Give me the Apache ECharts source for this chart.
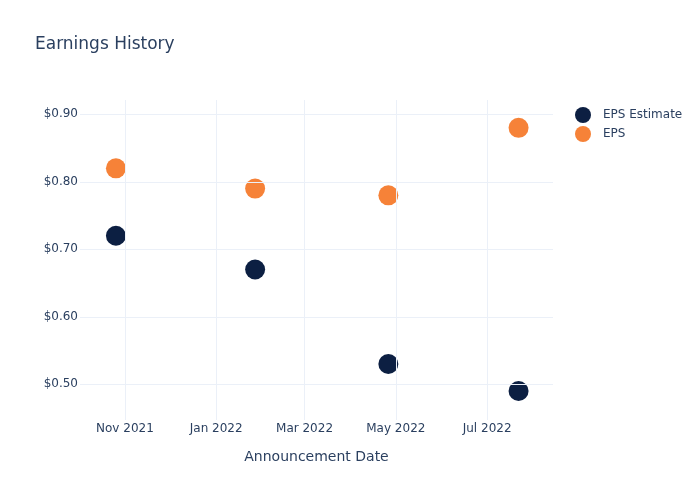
<!DOCTYPE html>
<html><head><meta charset="utf-8">
<script src="https://cdn.jsdelivr.net/npm/echarts@6/dist/echarts.min.js"></script>
<style>html,body{margin:0;padding:0;background:#fff}#c{width:700px;height:500px}</style>
</head><body><div id="c"></div>
<script>
const dates = ['2021-10-26', '2022-01-27', '2022-04-26', '2022-07-22'];
const epsEstimate = [0.72, 0.67, 0.53, 0.49];
const eps = [0.82, 0.79, 0.78, 0.88];
const xTicks = ['2021-11-01', '2022-01-01', '2022-03-01', '2022-05-01', '2022-07-01'];
const yTicks = [0.5, 0.6, 0.7, 0.8, 0.9];
const monthNames = ['Jan','Feb','Mar','Apr','May','Jun','Jul','Aug','Sep','Oct','Nov','Dec'];
const font = '"DejaVu Sans", "Open Sans", sans-serif';
const txt = '#2a3f5f';
const chart = echarts.init(document.getElementById('c'));
const tickTs = xTicks.map(d => +new Date(d + 'T00:00:00Z'));
chart.setOption({
  animation: false,
  title: { text: 'Earnings History', left: 35, top: 36, padding: 0, textStyle: { fontFamily: font, fontSize: 17, fontWeight: 'normal', color: txt } },
  legend: {
    orient: 'vertical', left: 570, top: 102, itemGap: 3, itemWidth: 16, itemHeight: 16,
    icon: 'circle', textStyle: { fontFamily: font, fontSize: 12, color: txt, padding: [0, 0, 0, 7] },
    data: ['EPS Estimate', 'EPS']
  },
  grid: { left: 80, right: 147, top: 100, bottom: 80, containLabel: false },
  xAxis: {
    type: 'time',
    min: +new Date('2021-10-02T00:00:00Z'),
    max: +new Date('2022-08-14T00:00:00Z'),
    name: 'Announcement Date', nameLocation: 'middle', nameGap: 30,
    nameTextStyle: { fontFamily: font, fontSize: 14, color: txt },
    axisLine: { show: false }, axisTick: { show: false },
    splitLine: { show: false },
    axisLabel: { show: false }
  },
  yAxis: {
    type: 'value', min: 0.4471, max: 0.9212, interval: 0.1,
    axisLine: { show: false }, axisTick: { show: false },
    splitLine: { show: false },
    axisLabel: { show: false }
  },
  series: [
    {
      name: 'EPS Estimate', type: 'scatter', symbolSize: 20, z: 3,
      itemStyle: { color: '#0c1f42', opacity: 1 },
      data: dates.map((d, i) => [d, epsEstimate[i]])
    },
    {
      name: 'EPS', type: 'scatter', symbolSize: 20, z: 3,
      itemStyle: { color: '#f68238', opacity: 1 },
      data: dates.map((d, i) => [d, eps[i]])
    },
    {
      name: 'xgrid', type: 'line', silent: true, z: 1, data: [],
      markLine: {
        symbol: 'none', silent: true, animation: false,
        lineStyle: { color: '#ebf0f8', width: 1, type: 'solid' },
        label: {
          show: true, position: 'start', distance: 3,
          fontFamily: font, fontSize: 12, color: txt,
          formatter: p => { const d = new Date(p.value); return monthNames[d.getUTCMonth()] + ' ' + d.getUTCFullYear(); }
        },
        data: tickTs.map(t => ({ xAxis: t }))
      }
    },
    {
      name: 'ygrid', type: 'line', silent: true, z: 1, data: [],
      markLine: {
        symbol: 'none', silent: true, animation: false,
        lineStyle: { color: '#ebf0f8', width: 1, type: 'solid' },
        label: {
          show: true, position: 'start', distance: 2,
          fontFamily: font, fontSize: 12, color: txt,
          formatter: p => '$' + (+p.value).toFixed(2)
        },
        data: yTicks.map(v => ({ yAxis: v }))
      }
    }
  ]
});
</script></body></html>
